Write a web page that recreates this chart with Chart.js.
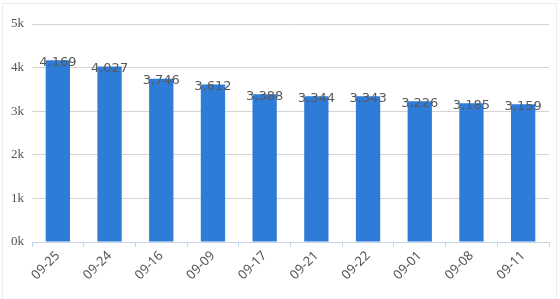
<!DOCTYPE html>
<html>
<head>
<meta charset="utf-8">
<script src="https://cdn.jsdelivr.net/npm/chart.js@4/dist/chart.umd.min.js"></script>
<style>
  html, body { margin: 0; padding: 0; background: #fff; overflow: hidden; }
  #frame { position: absolute; left: 2px; top: 3px; width: 555px; height: 320px; border: 1px solid #ececec; box-sizing: border-box; }
  #wrap { position: absolute; left: 0; top: 0; width: 560px; height: 299px; }
</style>
</head>
<body>
<div id="frame"></div>
<div id="wrap"><canvas id="c" width="560" height="299"></canvas></div>
<script>
const categories = ['09-25', '09-24', '09-16', '09-09', '09-17', '09-21', '09-22', '09-01', '09-08', '09-11'];
const values = [4169, 4027, 3746, 3612, 3388, 3344, 3343, 3226, 3185, 3159];
const yTickValues = [0, 1000, 2000, 3000, 4000, 5000];
const yTickLabels = ['0k', '1k', '2k', '3k', '4k', '5k'];

const valueLabels = {
  id: 'valueLabels',
  afterDatasetsDraw(chart) {
    const ctx = chart.ctx;
    const meta = chart.getDatasetMeta(0);
    ctx.save();
    ctx.font = '13px "DejaVu Sans", sans-serif';
    ctx.fillStyle = '#595959';
    ctx.textAlign = 'center';
    ctx.textBaseline = 'middle';
    meta.data.forEach((bar, i) => {
      ctx.fillText(values[i].toLocaleString('en-US'), bar.x, bar.y + 2);
    });
    ctx.restore();
  }
};

new Chart(document.getElementById('c'), {
  type: 'bar',
  data: {
    labels: categories,
    datasets: [{
      data: values,
      backgroundColor: '#2f7bd8',
      borderWidth: 0,
      barPercentage: 0.47,
      categoryPercentage: 1.0
    }]
  },
  options: {
    responsive: false,
    animation: false,
    devicePixelRatio: 1,
    layout: { padding: { top: 24, right: 11, left: 0, bottom: 0 } },
    plugins: { legend: { display: false }, tooltip: { enabled: false } },
    scales: {
      x: {
        offset: true,
        grid: { offset: true, drawOnChartArea: false, drawTicks: true, tickLength: 5, color: '#c6d6ea' },
        border: { display: true, color: '#c6d6ea', width: 1 },
        ticks: {
          minRotation: 45, maxRotation: 45, autoSkip: false, padding: 1,
          color: '#555555',
          font: { family: '"Noto Sans", sans-serif', size: 13 }
        },
        afterFit(scale) { scale.height = 57; }
      },
      y: {
        min: 0, max: 5000,
        afterBuildTicks(scale) { scale.ticks = yTickValues.map(v => ({ value: v })); },
        grid: { color: '#d4d4d4', drawTicks: false, lineWidth: 1 },
        border: { display: false },
        ticks: {
          padding: 8,
          color: '#555555',
          font: { family: '"Liberation Serif", serif', size: 13 },
          callback(v) { const i = yTickValues.indexOf(v); return i >= 0 ? yTickLabels[i] : ''; }
        },
        afterFit(scale) { scale.width = 32; }
      }
    }
  },
  plugins: [valueLabels]
});
</script>
</body>
</html>
